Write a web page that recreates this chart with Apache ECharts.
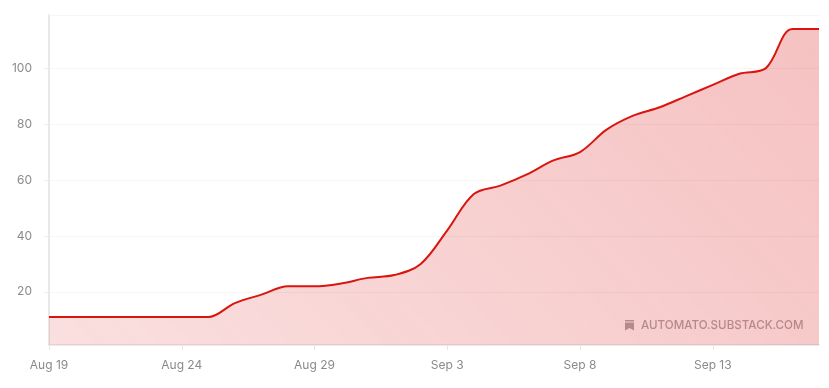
<!DOCTYPE html>
<html>
<head>
<meta charset="utf-8">
<style>
  html, body { margin: 0; padding: 0; background: #fff; }
  #chart { width: 829px; height: 388px; }
</style>
</head>
<body>
<div id="chart"></div>
<script src="https://cdn.jsdelivr.net/npm/echarts@6/dist/echarts.min.js"></script>
<script>
const days = [
  'Aug 19', 'Aug 20', 'Aug 21', 'Aug 22', 'Aug 23', 'Aug 24', 'Aug 25', 'Aug 26', 'Aug 27', 'Aug 28',
  'Aug 29', 'Aug 30', 'Aug 31', 'Sep 1', 'Sep 2', 'Sep 3', 'Sep 4', 'Sep 5', 'Sep 6', 'Sep 7',
  'Sep 8', 'Sep 9', 'Sep 10', 'Sep 11', 'Sep 12', 'Sep 13', 'Sep 14', 'Sep 15', 'Sep 16', 'Sep 17'
]
const counts = [
  11, 11, 11, 11, 11, 11, 11, 16, 19, 22,
  22, 23, 25, 26, 30, 42, 55, 58, 62, 67,
  70, 78, 83, 86, 90, 94, 98, 100, 114, 114
]
const yTicks = [20, 40, 60, 80, 100]
const yMin = 1
const yMax = 119
const watermark = 'AUTOMATO.SUBSTACK.COM'

const font = 'Inter, "Noto Sans", sans-serif'
const chart = echarts.init(document.getElementById('chart'))

chart.setOption({
  animation: false,
  grid: { left: 49, right: 10, top: 15, bottom: 43, containLabel: false },
  xAxis: {
    type: 'category',
    data: days,
    boundaryGap: false,
    axisLine: { lineStyle: { color: '#e6e6e6', width: 1.5 } },
    axisTick: { interval: 4, length: 5, lineStyle: { color: '#e6e6e6' } },
    axisLabel: { interval: 4, margin: 14, color: '#8a8a8a', fontSize: 12, fontFamily: font },
    splitLine: { show: false }
  },
  yAxis: {
    type: 'value',
    min: yMin,
    max: yMax,
    axisLine: { show: true, lineStyle: { color: '#e8e8e8', width: 2 } },
    axisTick: { show: true, customValues: yTicks, length: 5, lineStyle: { color: '#eeeeee' } },
    axisLabel: { customValues: yTicks, margin: 17, color: '#8a8a8a', fontSize: 12, fontFamily: font },
    splitLine: { show: true, lineStyle: { color: '#f5f5f5', width: 1 } }
  },
  series: [
    {
      type: 'line',
      data: counts,
      smooth: 0.35,
      symbol: 'none',
      lineStyle: { color: '#d9150f', width: 2 },
      areaStyle: {
        opacity: 1,
        // 渐变方向约 45 度，从左下到右上
        color: new echarts.graphic.LinearGradient(0, 1, 0.714, -0.667, [
          { offset: 0, color: 'rgba(220, 30, 30, 0.14)' },
          { offset: 1, color: 'rgba(220, 30, 30, 0.27)' }
        ])
      },
      // 顶部那条浅色边线
      markLine: {
        silent: true,
        symbol: 'none',
        label: { show: false },
        lineStyle: { color: '#f5f5f5', width: 1, type: 'solid' },
        data: [{ yAxis: yMax }]
      }
    }
  ],
  graphic: [
    {
      type: 'rect',
      x: 625,
      y: 320,
      shape: { width: 9, height: 1.5 },
      style: { fill: 'rgba(90, 80, 80, 0.5)' }
    },
    {
      type: 'polygon',
      x: 625,
      y: 322.5,
      shape: { points: [[0, 0], [9, 0], [9, 8], [4.5, 5.5], [0, 8]] },
      style: { fill: 'rgba(90, 80, 80, 0.5)' }
    },
    {
      type: 'text',
      x: 641,
      y: 319.5,
      style: {
        text: watermark,
        fill: 'rgba(90, 80, 80, 0.5)',
        font: '500 11.6px ' + font
      }
    }
  ]
})

window.addEventListener('resize', () => chart.resize())
</script>
</body>
</html>
